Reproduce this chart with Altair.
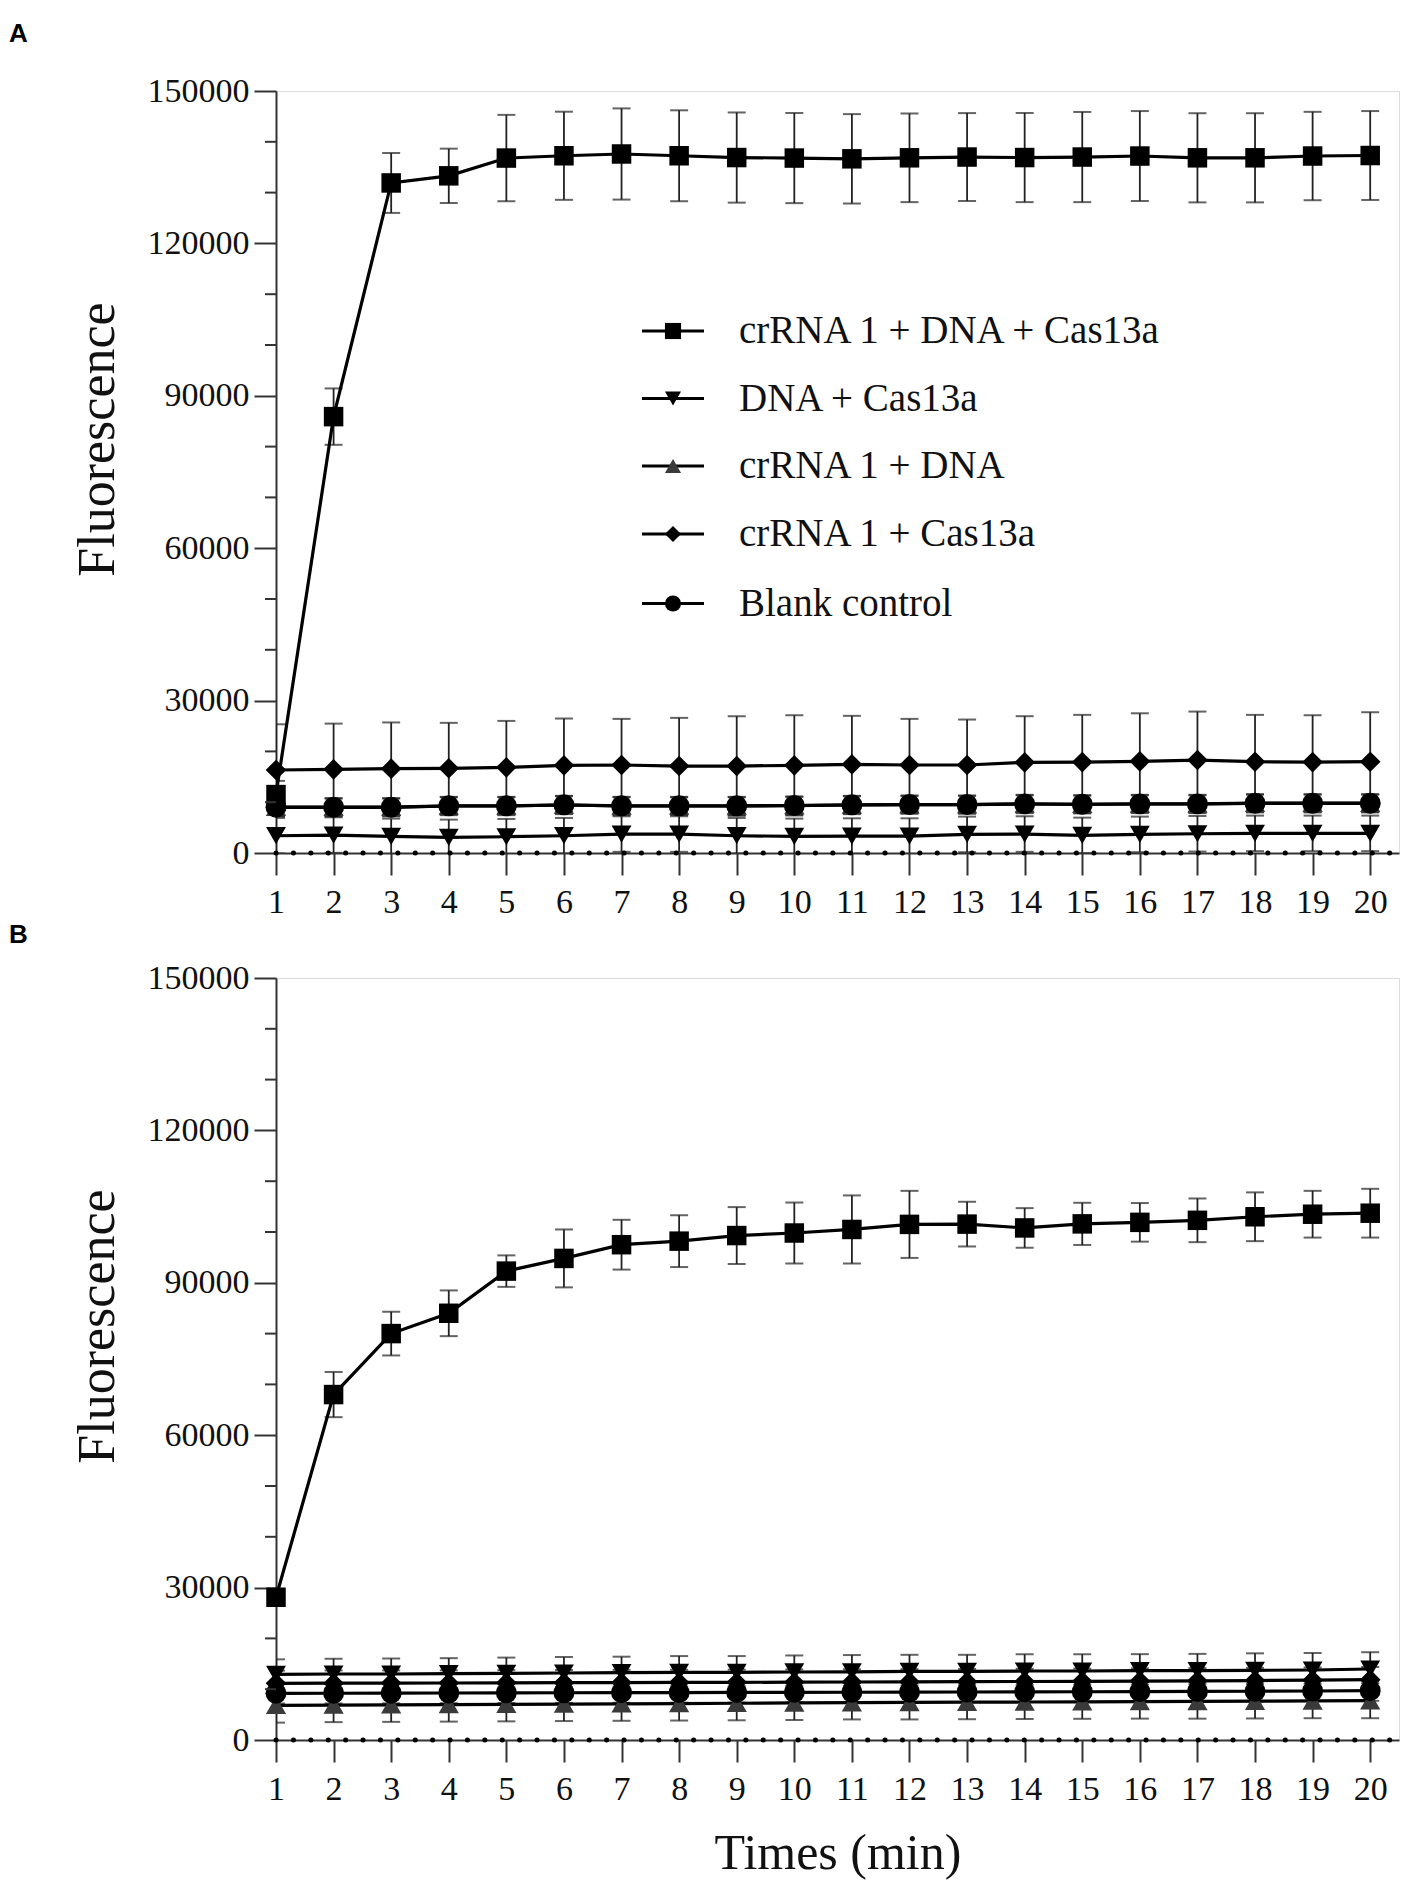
import altair as alt
import pandas as pd

# ---------------- data ----------------
times = list(range(1, 21))
series_names = ["crRNA 1 + DNA + Cas13a", "DNA + Cas13a", "crRNA 1 + DNA",
                "crRNA 1 + Cas13a", "Blank control"]
series_shapes = ["square", "triangle-down", "triangle-up", "diamond", "circle"]
series_fill = ["#000000", "#000000", "#3a3a3a", "#000000", "#000000"]
series_size = [380, 440, 440, 380, 380]

# Panel A
a_sq = [11500, 85900, 131900, 133300, 136800, 137250, 137600, 137250, 136900, 136800,
        136650, 136850, 137000, 136900, 137000, 137200, 136850, 136850, 137200, 137300]
a_sq_sd = [2700, 5550, 5900, 5350, 8500, 8675, 8975, 8950, 8875, 8875,
           8800, 8725, 8650, 8775, 8875, 8850, 8775, 8775, 8700, 8750]
a_tdn = [3400, 3530, 3270, 3070, 3200, 3400, 3730, 3730, 3400, 3270,
         3330, 3330, 3660, 3730, 3460, 3660, 3790, 3860, 3860, 3860]
a_tdn_sd = [3500] * 20
a_tup = [9000, 9000, 9000, 9250, 9250, 9450, 9250, 9250, 9250, 9330,
         9450, 9520, 9520, 9650, 9580, 9650, 9650, 9780, 9780, 9780]
a_tup_sd = [1800] * 20
a_dia = [16340, 16470, 16600, 16670, 16860, 17250, 17320, 17120, 17120, 17250,
         17450, 17320, 17320, 17840, 17900, 18040, 18300, 17970, 17900, 17970]
a_dia_sd = [9000, 9000, 9100, 8950, 9140, 9220, 9080, 9480, 9800, 9870,
            9550, 9080, 8950, 9090, 9290, 9460, 9540, 9220, 9220, 9740]
a_cir = [9020, 9020, 9020, 9280, 9280, 9480, 9280, 9280, 9280, 9350,
         9480, 9540, 9540, 9670, 9600, 9670, 9670, 9800, 9800, 9800]
a_cir_sd = [1700] * 20

# Panel B
b_sq = [28100, 68000, 80000, 84000, 92300, 94800, 97500, 98200, 99300, 99800,
        100500, 101500, 101550, 100800, 101600, 101900, 102300, 103000, 103500, 103700]
b_sq_sd = [1000, 4450, 4300, 4500, 3100, 5700, 4900, 5100, 5600, 6000,
           6700, 6600, 4400, 3900, 4150, 3800, 4300, 4800, 4600, 4800]
b_tdn = [12930, 12990, 12990, 13060, 13120, 13190, 13250, 13320, 13320, 13390,
         13420, 13520, 13520, 13580, 13580, 13650, 13650, 13710, 13780, 13980]
b_tdn_sd = [2950, 3000, 3050, 3050, 3100, 3150, 3150, 3200, 3200, 3250,
            3300, 3250, 3250, 3300, 3300, 3250, 3300, 3350, 3350, 3300]
b_tup = [6820, 6870, 6920, 6970, 7020, 7080, 7130, 7180, 7230, 7290,
         7350, 7400, 7440, 7480, 7520, 7560, 7600, 7640, 7690, 7740]
b_tup_sd = [3400, 3350, 3350, 3350, 3350, 3350, 3350, 3350, 3350, 3350,
            3300, 3350, 3350, 3350, 3350, 3350, 3400, 3400, 3400, 3450]
b_dia = [11150, 11180, 11200, 11220, 11250, 11280, 11300, 11330, 11350, 11380,
         11420, 11450, 11480, 11520, 11550, 11600, 11650, 11700, 11780, 11880]
b_dia_sd = [2500] * 20
b_cir = [9190, 9200, 9220, 9250, 9280, 9300, 9320, 9340, 9360, 9380,
         9400, 9420, 9450, 9480, 9500, 9530, 9560, 9600, 9650, 9710]
b_cir_sd = [2000] * 20

y_major = [0, 30000, 60000, 90000, 120000, 150000]
y_minor = [10000, 20000, 40000, 50000, 70000, 80000, 100000, 110000, 130000, 140000]
x_ticks = times
legend_rows_y = [240, 307.5, 375, 443, 512.5]

FONT = "Liberation Serif"
W, H = 1123, 762


def long_frame(means, sds):
    rows = []
    for k, (name, m, s) in enumerate(zip(series_names, means, sds)):
        for t, v, e in zip(times, m, s):
            rows.append({"t": t, "mean": v, "lo": v - e, "hi": v + e,
                         "series": name, "order": k})
    return pd.DataFrame(rows)


def panel(df, letter, show_x_title):
    xs = alt.Scale(domain=[1, 20.5], nice=False, zero=False)
    ys = alt.Scale(domain=[0, 150000], nice=False, zero=False)
    x_axis = alt.Axis(values=x_ticks, format="d", tickSize=22, tickWidth=2,
                      tickColor="#333", domainColor="#333", domainWidth=2,
                      labelFont=FONT, labelFontSize=34, labelColor="#111",
                      labelPadding=10, grid=False, labelFlush=False,
                      title="Times (min)" if show_x_title else None,
                      titleFont=FONT, titleFontSize=50, titleFontWeight="normal",
                      titleColor="#111", titlePadding=22)
    y_axis = alt.Axis(values=y_major, format="d", tickSize=22, tickWidth=2,
                      tickColor="#333", domainColor="#333", domainWidth=2,
                      labelFont=FONT, labelFontSize=34, labelColor="#111",
                      labelPadding=5, grid=False, labelFlush=False,
                      title="Fluorescence", titleFont=FONT, titleFontSize=52,
                      titleFontWeight="normal", titleColor="#111",
                      titleAngle=270, titleX=-179, titleY=348,
                      titleBaseline="middle", titleAlign="center")
    X = alt.X("t:Q", scale=xs, axis=x_axis)
    color = alt.Color("series:N", scale=alt.Scale(domain=series_names, range=series_fill),
                      legend=None)
    shape = alt.Shape("series:N", scale=alt.Scale(domain=series_names, range=series_shapes),
                      legend=None)
    size = alt.Size("series:N", scale=alt.Scale(domain=series_names, range=series_size),
                    legend=None)

    base = alt.Chart(df)
    err = base.mark_rule(color="#222", strokeWidth=1.8, clip=True).encode(
        x=X, y=alt.Y("lo:Q", scale=ys, axis=y_axis), y2="hi:Q")
    cap_lo = base.mark_tick(orient="horizontal", size=18, thickness=2,
                            color="#222", clip=True).encode(x="t:Q", y="lo:Q")
    cap_hi = base.mark_tick(orient="horizontal", size=18, thickness=2,
                            color="#222", clip=True).encode(x="t:Q", y="hi:Q")
    lines = base.mark_line(color="#000", strokeWidth=3.2).encode(
        x="t:Q", y="mean:Q", detail="series:N", order="t:Q")
    pts = base.mark_point(filled=True, opacity=1, strokeWidth=0).encode(
        x="t:Q", y="mean:Q", color=color, shape=shape, size=size)

    zero_dots = alt.Chart(pd.DataFrame({"v": [0]})).mark_rule(
        color="#000", strokeWidth=5, strokeCap="round", strokeDash=[0.1, 17.3]
    ).encode(x=alt.datum(1), x2=alt.datum(20.5), y=alt.Y("v:Q"))

    minor = alt.Chart(pd.DataFrame({"v": y_minor})).mark_rule(
        color="#333", strokeWidth=2).encode(
        x=alt.value(-11), x2=alt.value(0), y=alt.Y("v:Q"))

    letter_txt = alt.Chart(pd.DataFrame({"l": [letter]})).mark_text(
        font="Liberation Sans", fontSize=26, fontWeight="bold", align="left",
        baseline="top", color="#000").encode(
        x=alt.value(-267), y=alt.value(-70 if letter == "A" else -56), text="l:N")

    layers = [err, cap_lo, cap_hi, lines, pts, zero_dots, minor, letter_txt]

    if letter == "A":
        for name, shp, fill, ry in zip(series_names, series_shapes, series_fill,
                                       legend_rows_y):
            one = alt.Chart(pd.DataFrame({"name": [name]}))
            layers.append(one.mark_rule(color="#000", strokeWidth=3).encode(
                x=alt.value(366), x2=alt.value(428), y=alt.value(ry)))
            layers.append(one.mark_point(shape=shp, filled=True, opacity=1,
                                         color=fill, size=260, strokeWidth=0).encode(
                x=alt.value(397), y=alt.value(ry)))
            layers.append(one.mark_text(font=FONT, fontSize=39, align="left",
                                        baseline="middle", color="#111").encode(
                x=alt.value(463), y=alt.value(ry), text="name:N"))

    return alt.layer(*layers).properties(width=W, height=H)


dfA = long_frame([a_sq, a_tdn, a_tup, a_dia, a_cir],
                 [a_sq_sd, a_tdn_sd, a_tup_sd, a_dia_sd, a_cir_sd])
dfB = long_frame([b_sq, b_tdn, b_tup, b_dia, b_cir],
                 [b_sq_sd, b_tdn_sd, b_tup_sd, b_dia_sd, b_cir_sd])

chart = alt.vconcat(panel(dfA, "A", False), panel(dfB, "B", True), spacing=1).properties(
    padding={"left": 0, "top": 12, "right": 5, "bottom": 5}
).configure_view(stroke="#555", strokeWidth=2).configure(background="white")

chart.save("out.html", embed_options={"renderer": "svg", "actions": False})
